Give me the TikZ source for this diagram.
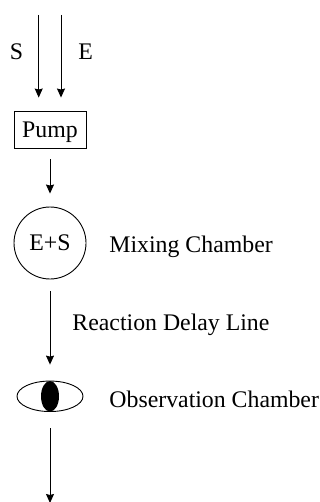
\documentclass[tikz,border=0pt]{standalone}
\usepackage{fontspec}
\setmainfont{Liberation Serif}
\usetikzlibrary{shapes.geometric,arrows.meta}
\begin{document}
\begin{tikzpicture}[x=1pt, y=-1pt, font=\fontsize{23.8}{27}\selectfont, line width=0.9pt,
	flow/.style={-{Stealth[length=9pt,width=8pt,inset=1pt]}},
	lbl/.style={anchor=base west, inner sep=0pt}]
	\useasboundingbox (0,0) rectangle (320,502);
	\node[draw, text depth=0pt, minimum width=72pt, minimum height=37pt, inner sep=0pt] (pump) at (50,129.5) {Pump};
	\node[draw, circle, minimum size=72pt, inner sep=0pt] (mixer) at (50,243) {E+S};
	\node[draw, ellipse, minimum width=66pt, minimum height=30.5pt, inner sep=0pt] (eye) at (50,396.3) {};
	\node[ellipse, fill=black, minimum width=18pt, minimum height=30.5pt, inner sep=0pt] (pupil) at (50,396.3) {};
	\coordinate (inS) at (38.7,15);
	\coordinate (inE) at (61,15);
	\coordinate (outlet) at (50,503);
	\node[lbl] (labelS) at (9.5,60) {S};
	\node[lbl] (labelE) at (78,60) {E};
	\node[lbl] (labelmix) at (109,252) {Mixing Chamber};
	\node[lbl] (labeldelay) at (72,330) {Reaction Delay Line};
	\node[lbl] (labelobs) at (109,407.7) {Observation Chamber};
	\draw[flow, shorten >=13pt] (inS)--(inS |- pump.north);
	\draw[flow, shorten >=13pt] (inE)--(inE |- pump.north);
	\draw[flow, shorten <=11pt, shorten >=13pt] (pump.south)--(mixer.north);
	\draw[flow, shorten <=12pt, shorten >=16pt] (mixer.south)--(eye.north);
	\draw[flow, shorten <=16pt] (eye.south)--(outlet);
\end{tikzpicture}
\end{document}
